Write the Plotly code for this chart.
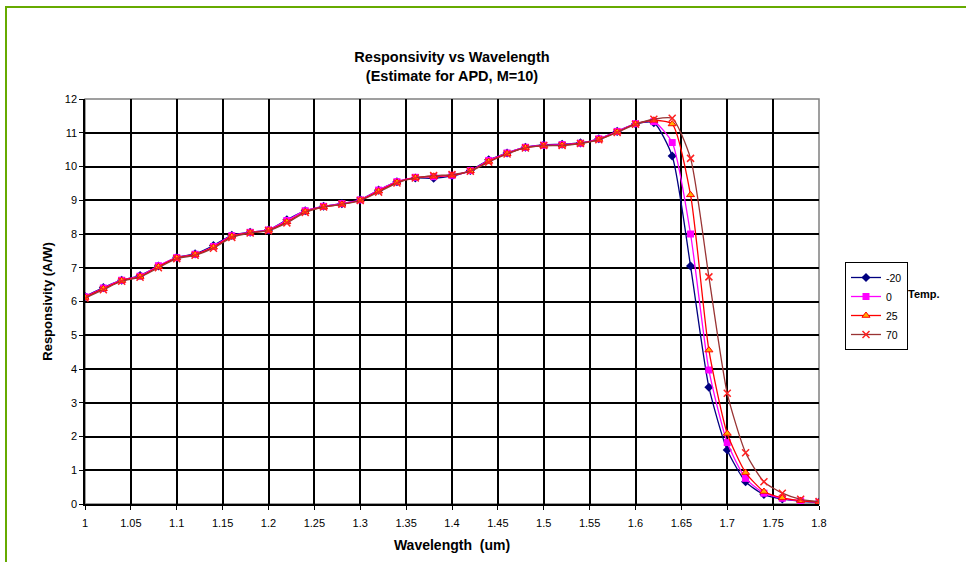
import plotly.graph_objects as go

wavelength = [1.00, 1.02, 1.04, 1.06, 1.08, 1.10, 1.12, 1.14, 1.16, 1.18,
              1.20, 1.22, 1.24, 1.26, 1.28, 1.30, 1.32, 1.34, 1.36, 1.38,
              1.40, 1.42, 1.44, 1.46, 1.48, 1.50, 1.52, 1.54, 1.56, 1.58,
              1.60, 1.62, 1.64, 1.66, 1.68, 1.70, 1.72, 1.74, 1.76, 1.78, 1.80]

resp_m20 = [6.15, 6.41, 6.63, 6.77, 7.05, 7.31, 7.41, 7.66, 7.96, 8.05,
            8.12, 8.42, 8.69, 8.82, 8.90, 9.02, 9.30, 9.55, 9.66, 9.65,
            9.72, 9.88, 10.20, 10.40, 10.57, 10.64, 10.66, 10.70, 10.82, 11.04,
            11.26, 11.30, 10.31, 7.05, 3.46, 1.60, 0.66, 0.28, 0.15, 0.08, 0.05]
resp_0 = [6.14, 6.40, 6.63, 6.75, 7.06, 7.30, 7.40, 7.63, 7.95, 8.05,
          8.12, 8.40, 8.69, 8.82, 8.90, 9.01, 9.30, 9.55, 9.68, 9.70,
          9.74, 9.88, 10.18, 10.40, 10.57, 10.63, 10.65, 10.69, 10.82, 11.04,
          11.27, 11.33, 10.71, 8.00, 3.97, 1.82, 0.76, 0.32, 0.17, 0.09, 0.05]
resp_25 = [6.12, 6.38, 6.62, 6.74, 7.03, 7.29, 7.39, 7.61, 7.93, 8.04,
           8.11, 8.36, 8.66, 8.80, 8.88, 9.00, 9.27, 9.53, 9.67, 9.71,
           9.74, 9.87, 10.15, 10.38, 10.56, 10.62, 10.63, 10.69, 10.80, 11.02,
           11.26, 11.37, 11.26, 9.16, 4.56, 2.09, 0.93, 0.37, 0.18, 0.10, 0.05]
resp_70 = [6.10, 6.35, 6.60, 6.72, 7.00, 7.27, 7.37, 7.58, 7.90, 8.03,
           8.10, 8.33, 8.64, 8.80, 8.88, 8.99, 9.24, 9.51, 9.66, 9.73,
           9.76, 9.86, 10.13, 10.37, 10.55, 10.62, 10.62, 10.68, 10.79, 11.01,
           11.25, 11.40, 11.43, 10.24, 6.73, 3.28, 1.52, 0.66, 0.32, 0.14, 0.07]

series_names = ["-20", "0", "25", "70"]
x_tick_vals = [1.0, 1.05, 1.1, 1.15, 1.2, 1.25, 1.3, 1.35, 1.4, 1.45, 1.5,
               1.55, 1.6, 1.65, 1.7, 1.75, 1.8]
x_tick_text = ["1", "1.05", "1.1", "1.15", "1.2", "1.25", "1.3", "1.35", "1.4",
               "1.45", "1.5", "1.55", "1.6", "1.65", "1.7", "1.75", "1.8"]
y_tick_vals = [0, 1, 2, 3, 4, 5, 6, 7, 8, 9, 10, 11, 12]

FONT = "Liberation Sans, Arial, sans-serif"

styles = [
    dict(line=dict(color="#000080", width=1.3),
         marker=dict(symbol="diamond", size=7, color="#000080")),
    dict(line=dict(color="#FF00FF", width=1.3),
         marker=dict(symbol="square", size=7, color="#FF00FF")),
    dict(line=dict(color="#FF0000", width=1.3),
         marker=dict(symbol="triangle-up", size=7, color="#FFB000",
                     line=dict(color="#FF0000", width=1))),
    dict(line=dict(color="#993333", width=1.3),
         marker=dict(symbol="x-thin", size=7, color="#FF2020",
                     line=dict(color="#FF2020", width=1.5))),
]

fig = go.Figure()
for name, ys, st in zip(series_names, [resp_m20, resp_0, resp_25, resp_70], styles):
    fig.add_trace(go.Scatter(
        x=wavelength, y=ys, name=name, mode="lines+markers",
        line=dict(shape="spline", smoothing=0.6, **st["line"]),
        marker=st["marker"],
    ))

fig.update_layout(
    width=966, height=562,
    margin=dict(l=85, r=147, t=99, b=58),
    paper_bgcolor="white", plot_bgcolor="white",
    font=dict(family=FONT, size=11, color="black"),
    title=dict(text="<b>Responsivity vs Wavelength<br>(Estimate for APD, M=10)</b>",
               x=0.5, xref="paper", xanchor="center",
               y=(562 - 62) / 562, yref="container", yanchor="middle",
               font=dict(family=FONT, size=14.5, color="black")),
    showlegend=True,
    legend=dict(x=(845 - 85) / 734, y=(504 - 262) / 405, xanchor="left", yanchor="top",
                bordercolor="black", borderwidth=1, bgcolor="white",
                font=dict(family=FONT, size=10.5, color="black"),
                itemwidth=30, tracegroupgap=0),
    xaxis=dict(range=[1.0, 1.8], tickvals=x_tick_vals, ticktext=x_tick_text,
               showgrid=True, gridcolor="black", gridwidth=1.5,
               showline=True, linecolor="black", linewidth=1.5,
               ticks="outside", ticklen=4, tickcolor="black",
               ticklabelstandoff=4,
               tickfont=dict(family=FONT, size=11, color="black"),
               zeroline=False,
               title=dict(text="<b>Wavelength  (um)</b>", standoff=12,
                          font=dict(family=FONT, size=14, color="black"))),
    yaxis=dict(range=[0, 12], tickvals=y_tick_vals,
               showgrid=True, gridcolor="black", gridwidth=1.5,
               showline=True, linecolor="black", linewidth=1.5,
               ticks="outside", ticklen=4, tickcolor="black",
               tickfont=dict(family=FONT, size=11, color="black"),
               zeroline=False,
               title=dict(text="<b>Responsivity (A/W)</b>", standoff=9,
                          font=dict(family=FONT, size=13, color="black"))),
    shapes=[
        dict(type="rect", xref="paper", yref="paper", x0=0, x1=1, y0=0, y1=1,
             line=dict(color="#808080", width=1.5), layer="below"),
        dict(type="path", xref="paper", yref="paper",
             path="M %f,%f L %f,%f L %f,%f" % (
                 (6 - 85) / 734, (504 - 570) / 405,
                 (6 - 85) / 734, (504 - 7) / 405,
                 (975 - 85) / 734, (504 - 7) / 405),
             line=dict(color="#66AA00", width=2)),
    ],
    annotations=[
        dict(text="<b>Temp.</b>", xref="paper", yref="paper",
             x=(906 - 85) / 734, y=(504 - 294) / 405, xanchor="left", yanchor="middle",
             showarrow=False, font=dict(family=FONT, size=11, color="black")),
    ],
)

fig.write_html("out.html")
